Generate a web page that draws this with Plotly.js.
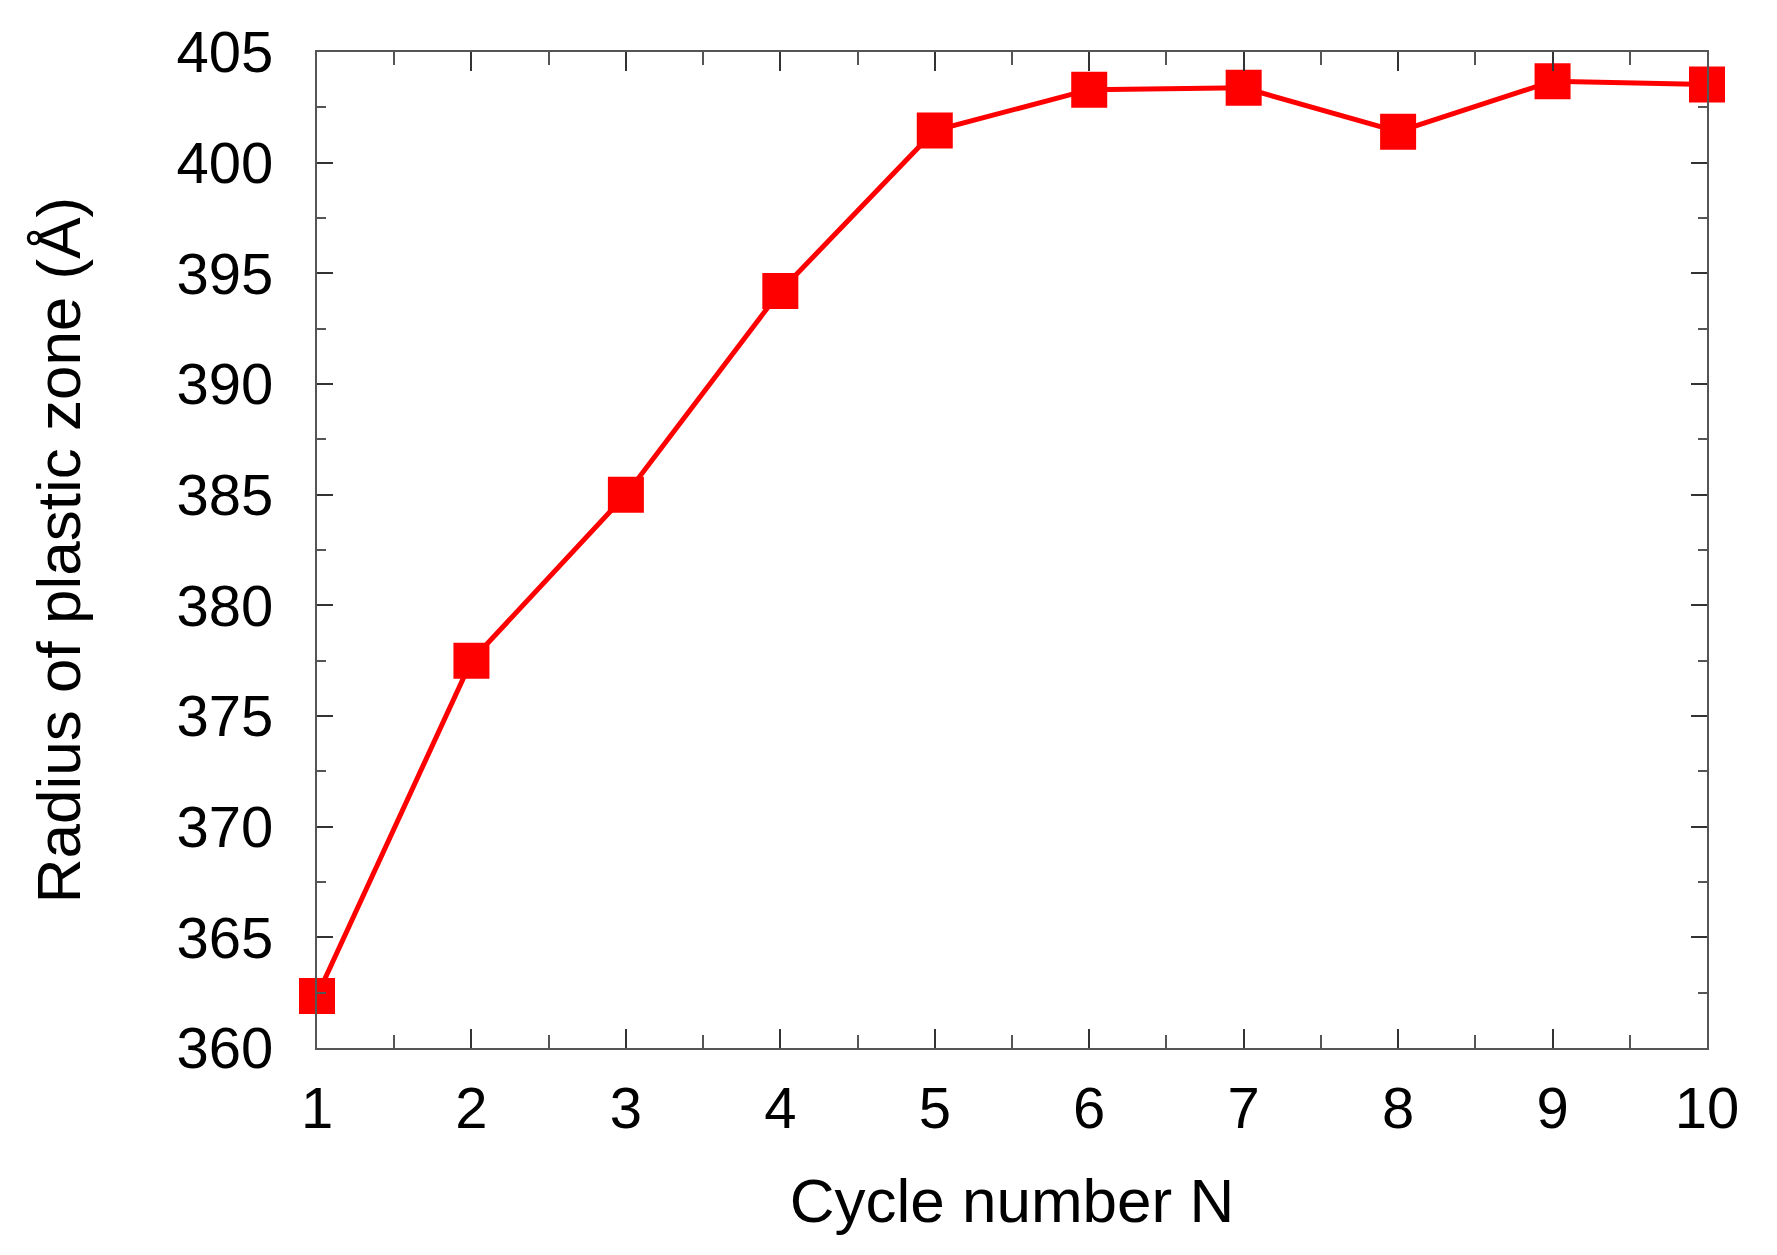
<!DOCTYPE html>
<html>
<head>
<meta charset="utf-8">
<script src="https://cdn.plot.ly/plotly-3.0.1.min.js"></script>
<style>
  html, body { margin: 0; padding: 0; background: #ffffff; }
  #chart { width: 1777px; height: 1255px; }
</style>
</head>
<body>
<div id="chart"></div>
<script>
const cycles = [1, 2, 3, 4, 5, 6, 7, 8, 9, 10];
const radius = [362.35, 377.5, 385.0, 394.2, 401.45, 403.3, 403.38, 401.4, 403.68, 403.53];
const xTitle = 'Cycle number N';
const yTitle = 'Radius of plastic zone (Å)';

const FONT = 'Arial, "Liberation Sans", sans-serif';

const trace = {
  x: cycles,
  y: radius,
  type: 'scatter',
  mode: 'lines+markers',
  line: { color: '#ff0000', width: 5 },
  marker: { symbol: 'square', size: 36, color: '#ff0000' },
  cliponaxis: false,
  showlegend: false
};

const axisCommon = {
  showgrid: false,
  zeroline: false,
  showline: true,
  linecolor: '#555555',
  linewidth: 2,
  mirror: 'ticks',
  ticks: 'inside',
  tickcolor: '#333333',
  tickwidth: 2,
  tickfont: { family: FONT, size: 58, color: '#000000' }
};

const layout = {
  width: 1777,
  height: 1255,
  paper_bgcolor: '#ffffff',
  plot_bgcolor: '#ffffff',
  margin: { l: 317, r: 70, t: 52, b: 207 },
  xaxis: Object.assign({}, axisCommon, {
    range: [1, 10],
    tickmode: 'linear',
    tick0: 1,
    dtick: 1,
    ticklen: 19,
    ticklabelstandoff: 8,
    minor: { dtick: 0.5, ticks: 'inside', ticklen: 13, tickcolor: '#555555', tickwidth: 2 },
    title: { text: xTitle, font: { family: FONT, size: 62, color: '#000000' }, standoff: 40 }
  }),
  yaxis: Object.assign({}, axisCommon, {
    range: [360, 405],
    tickmode: 'linear',
    tick0: 360,
    dtick: 5,
    ticklen: 16,
    ticklabelstandoff: 30,
    minor: { dtick: 2.5, ticks: 'inside', ticklen: 9, tickcolor: '#555555', tickwidth: 2 },
    title: { text: yTitle, font: { family: FONT, size: 62, color: '#000000' }, standoff: 76 }
  })
};

Plotly.newPlot('chart', [trace], layout, { displayModeBar: false, staticPlot: true });
</script>
</body>
</html>
